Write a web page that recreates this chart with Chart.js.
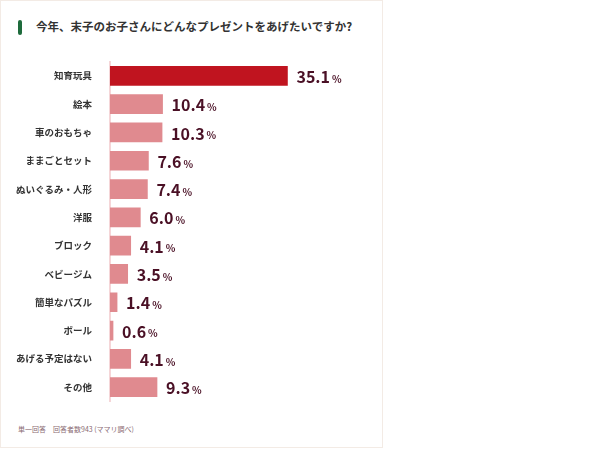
<!DOCTYPE html>
<html><head><meta charset="utf-8">
<script src="https://cdn.jsdelivr.net/npm/chart.js@4"></script>
<style>
body{margin:0;background:#fff;font-family:"Noto Sans CJK JP",sans-serif;}
#card{position:absolute;left:0;top:0;width:381px;height:446px;border:1px solid #f3ebe5;background:#fff;}
#title{position:absolute;left:36px;top:18px;font-size:11.5px;font-weight:bold;color:#333;}
#mark{position:absolute;left:18px;top:20px;width:4px;height:15px;background:#1e6b3c;border-radius:2px;}
#note{position:absolute;left:18px;top:424px;font-size:7px;color:#8a6a72;}
#wrap{position:absolute;left:0;top:46px;width:383px;height:371px;}
</style></head><body>
<div id="card"></div>
<div id="mark"></div>
<div id="title">今年、末子のお子さんにどんなプレゼントをあげたいですか?</div>
<div id="wrap"><canvas id="c"></canvas></div>
<div id="note">単一回答　回答者数943 (ママリ調べ)</div>
<script>
const categories = ['知育玩具','絵本','車のおもちゃ','ままごとセット','ぬいぐるみ・人形','洋服','ブロック','ベビージム','簡単なパズル','ボール','あげる予定はない','その他'];
const values = [35.1,10.4,10.3,7.6,7.4,6.0,4.1,3.5,1.4,0.6,4.1,9.3];
const colors = values.map((v, i) => i === 0 ? '#c0141f' : '#e08a8f');

const valueLabels = {
  id: 'valueLabels',
  afterDatasetsDraw(chart) {
    const ctx = chart.ctx;
    chart.getDatasetMeta(0).data.forEach((bar, i) => {
      const txt = values[i].toFixed(1);
      ctx.save();
      ctx.fillStyle = '#4a1025';
      ctx.textBaseline = 'middle';
      ctx.font = 'bold 16px "Noto Sans CJK JP"';
      const x = bar.x + 9;
      ctx.fillText(txt, x, bar.y + 1);
      const w = ctx.measureText(txt).width;
      ctx.font = 'bold 10px "Noto Sans CJK JP"';
      ctx.fillText('%', x + w + 2, bar.y + 3);
      ctx.restore();
    });
  }
};

new Chart('c', {
  type: 'bar',
  data: { labels: categories, datasets: [{ data: values, backgroundColor: colors, barThickness: 19 }] },
  options: {
    indexAxis: 'y', responsive: true, maintainAspectRatio: false, animation: false,
    layout: { padding: 0 },
    plugins: { legend: { display: false }, tooltip: { enabled: false } },
    scales: {
      x: { min: 0, max: 54, display: false },
      y: {
        afterFit(s) { s.width = 110; },
        grid: { display: false },
        border: { color: '#f5d6d8', width: 2 },
        ticks: { color: '#333', padding: 10, font: { size: 9.5, weight: 'bold', family: '"Noto Sans CJK JP"' } }
      }
    }
  },
  plugins: [valueLabels]
});
</script></body></html>
